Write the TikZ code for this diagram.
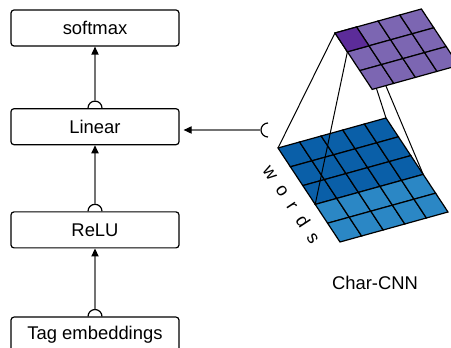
\documentclass[tikz,border=0pt]{standalone}
\usepackage{fontspec}
\setmainfont{Liberation Sans}
\usetikzlibrary{positioning,arrows.meta}
\definecolor{cnndark}{HTML}{0A5FA8}
\definecolor{cnnlight}{HTML}{2B87C5}
\definecolor{poolcell}{HTML}{7C66B2}
\definecolor{poolhot}{HTML}{5C2C99}

\begin{document}
\begin{tikzpicture}[x=0.5pt,y=0.5pt,
    every node/.style={font=\fontsize{9.2pt}{11pt}\selectfont},
    layerbox/.style={draw=black, line width=0.6pt, rounded corners=1.5pt, minimum width=84pt, minimum height=18pt, inner sep=0pt},
    flow/.style={draw=black!55, line width=0.6pt, -{Triangle[black,length=4pt,width=3.6pt]}},
    socket/.style={draw=black, line width=0.6pt},
    cellline/.style={draw=black, line width=0.6pt},
    proj/.style={draw=black, line width=0.5pt},]
    \clip (0,0) rectangle (451,348);
    % nodes
    \node[layerbox]      (softmax)   at (95,320)                 {softmax};
    \node[layerbox]      (linear)    [below=30.75pt of softmax]  {Linear};
    \node[layerbox]      (relu)      [below=33pt of linear]      {ReLU};
    \node[layerbox]      (tagemb)    [below=34pt of relu]        {Tag embeddings};
    \coordinate          (cnnout)    at (268,218);
    \node                (charcnn)   at (375,65)                 {Char-CNN};
    \node[rotate=-56.6]  (wordslabel) at (292,144) {w\hspace{5pt}o\hspace{5pt}r\hspace{5pt}d\hspace{5pt}s};
    % lines
    \draw[socket] ([xshift=-3.5pt]relu.north) arc (180:0:3.5pt);
    \draw[socket] ([xshift=-3.5pt]tagemb.north) arc (180:0:3.5pt);
    \draw[socket] ([xshift=-3.5pt]linear.north) arc (180:0:3.5pt);
    \draw[socket] ([yshift=3.5pt]cnnout) arc (90:270:3.5pt);
    \draw[flow] ([yshift=3.5pt]tagemb.north) -- (relu.south);
    \draw[flow] ([yshift=3.5pt]relu.north) -- (linear.south);
    \draw[flow] ([yshift=3.5pt]linear.north) -- (softmax.south);
    \draw[flow, shorten >=2pt] ([xshift=-3.5pt]cnnout) -- (linear.east |- cnnout);
    % word grid
    \begin{scope}[shift={(278,200)}, x={(10.8pt,3pt)}, y={(6.2pt,-9.4pt)}]
        \foreach \i in {0,...,4}
            \foreach \j in {0,...,4} {
                \ifnum\j<3 \def\cellcol{cnndark}\else\def\cellcol{cnnlight}\fi
                \filldraw[fill=\cellcol, cellline] (\i,\j) -- ++(1,0) -- ++(0,1) -- ++(-1,0) -- cycle;
            }
        \coordinate (inTL) at (0,0);
        \coordinate (inTR) at (5,0);
        \coordinate (inBL) at (0,3);
        \coordinate (inBR) at (5,3);
    \end{scope}
    % pooled grid
    \begin{scope}[shift={(335,315)}, x={(10.8pt,3pt)}, y={(6.2pt,-9.4pt)}]
        \coordinate (hotTL) at (0,0);
        \coordinate (hotTR) at (1,0);
        \coordinate (hotBL) at (0,1);
        \coordinate (hotBR) at (1,1);
        \draw[proj] (hotTL) -- (inTL);
        \draw[proj] (hotBL) -- (inBL);
        \draw[proj] (hotTR) -- (inTR);
        \draw[proj] (hotBR) -- (inBR);
        \foreach \i in {0,...,3}
            \foreach \j in {0,...,2} {
                \filldraw[fill=poolcell, cellline] (\i,\j) -- ++(1,0) -- ++(0,1) -- ++(-1,0) -- cycle;
            }
        \filldraw[fill=poolhot, cellline] (hotTL) -- (hotTR) -- (hotBR) -- (hotBL) -- cycle;
    \end{scope}
\end{tikzpicture}
\end{document}
